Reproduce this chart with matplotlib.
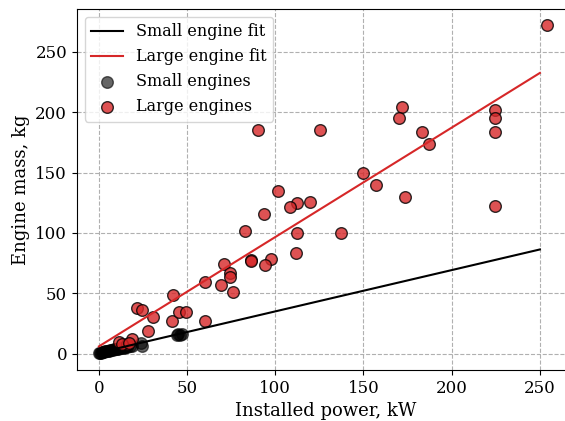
import numpy as np
import matplotlib
matplotlib.use("Agg")
import matplotlib.pyplot as plt

# Small engines: installed power (kW) and mass (kg)
small_power = [0.3, 0.8, 1.2, 1.8, 2.5, 3.0, 3.6, 4.2, 5.0, 5.5, 6.3, 7.0, 7.8, 8.5,
               9.2, 10.0, 11.0, 12.0, 13.0, 14.0, 15.0, 16.0, 17.5, 19.0,
               24.0, 24.5, 44.0, 45.0, 46.0, 47.0]
small_mass = [0.2, 0.5, 0.8, 1.0, 1.4, 1.5, 2.0, 2.2, 2.3, 2.6, 2.8, 3.0, 3.2, 3.5,
              3.6, 4.0, 4.2, 4.5, 4.8, 5.0, 5.4, 5.6, 6.0, 6.5,
              8.6, 6.5, 15.5, 16.0, 15.8, 16.5]

# Large engines: installed power (kW) and mass (kg)
large_power = [254, 172, 170, 183, 187, 224.5, 224.5, 224.5, 224.5, 173.6, 157,
               90.3, 125.3, 149.8, 101.3, 112.4, 108.3, 119.6, 93.7, 82.8, 112.4,
               137, 112, 71.2, 86.2, 86.2, 97.5, 93.9, 74.6, 74.6, 59.9, 69, 76.3,
               59.9, 41.8, 41.2, 45.5, 49.1, 21.4, 24.7, 30.4, 28, 11.5, 15.7,
               18.9, 13, 17]
large_mass = [272, 204, 195, 184, 174, 202, 195, 184, 122, 129.6, 139.5,
              185, 185, 149.8, 134.5, 124.8, 121.5, 125.7, 115.4, 101.6, 100,
              100, 83.5, 74.2, 77.8, 77, 78.3, 73.3, 66.7, 63.4, 59.5, 57, 51.2,
              27, 48.7, 27.4, 34.9, 34.9, 38, 36.2, 30.7, 18.5, 9.5, 7.8,
              12.5, 8, 9]

# Linear fits: mass = slope * power + intercept
small_fit = (0.342, 0.8)
large_fit = (0.906, 6.0)
fit_range = (0, 250)

plt.rcParams['font.family'] = 'DejaVu Serif'
plt.rcParams['font.size'] = 12

fig = plt.figure(figsize=(5.65, 4.21), dpi=100)
# axes run a little past the right edge of the figure
ax = fig.add_axes([0.136, 0.121, 0.882, 0.858])

p = np.linspace(fit_range[0], fit_range[1], 100)
ax.plot(p, small_fit[0] * p + small_fit[1], color='k', lw=1.5, label='Small engine fit')
ax.plot(p, large_fit[0] * p + large_fit[1], color='tab:red', lw=1.5, label='Large engine fit')
ax.scatter(small_power, small_mass, s=70, color='k', alpha=0.6, edgecolors='k',
           linewidths=1, label='Small engines')
ax.scatter(large_power, large_mass, s=70, color='tab:red', alpha=0.8, edgecolors='k',
           linewidths=1, label='Large engines')

ax.set_xlim(-12.5, 270)
ax.set_ylim(-13.6, 285.6)
ax.set_xticks([0, 50, 100, 150, 200, 250])
ax.set_yticks([0, 50, 100, 150, 200, 250])
ax.spines['right'].set_visible(False)
ax.grid(True, linestyle='--', color='#b0b0b0', lw=0.8)
ax.set_axisbelow(True)
ax.set_xlabel('Installed power, kW', fontsize=13)
ax.set_ylabel('Engine mass, kg', fontsize=13)
ax.legend(loc='upper left', fontsize=11.5)

fig.savefig('out.png', dpi=100)
